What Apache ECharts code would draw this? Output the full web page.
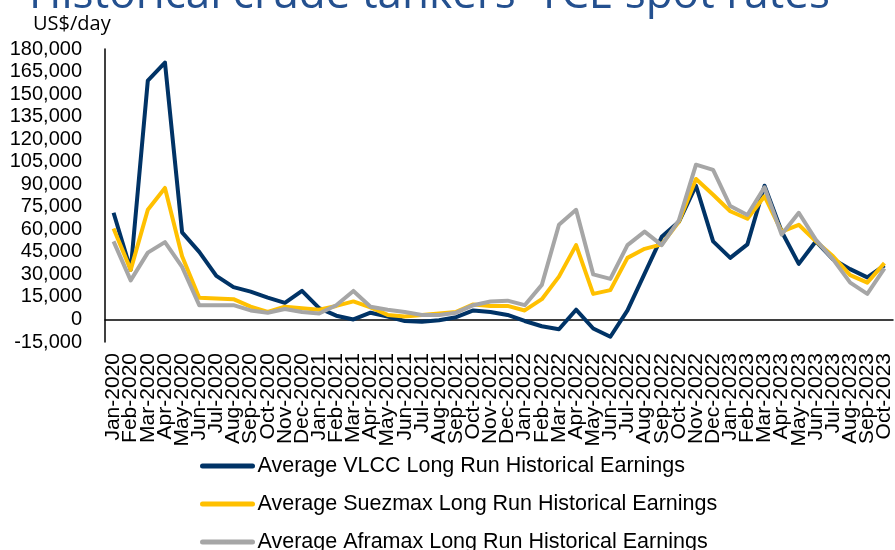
<!DOCTYPE html>
<html>
<head>
    <meta charset="utf-8">
    <title>Crude tankers TCE</title>
    <script src="https://cdn.jsdelivr.net/npm/echarts@6/dist/echarts.min.js"></script>
    <style>
        html, body { margin: 0; padding: 0; background: #fff; }
    </style>
</head>
<body>
<div id="main" style="width: 895px;height:550px;"></div>

<script type="text/javascript">
    // months Jan-2020 .. Oct-2023
    var months = [
        'Jan-2020','Feb-2020','Mar-2020','Apr-2020','May-2020','Jun-2020','Jul-2020','Aug-2020','Sep-2020','Oct-2020','Nov-2020','Dec-2020',
        'Jan-2021','Feb-2021','Mar-2021','Apr-2021','May-2021','Jun-2021','Jul-2021','Aug-2021','Sep-2021','Oct-2021','Nov-2021','Dec-2021',
        'Jan-2022','Feb-2022','Mar-2022','Apr-2022','May-2022','Jun-2022','Jul-2022','Aug-2022','Sep-2022','Oct-2022','Nov-2022','Dec-2022',
        'Jan-2023','Feb-2023','Mar-2023','Apr-2023','May-2023','Jun-2023','Jul-2023','Aug-2023','Sep-2023','Oct-2023'
    ];

    // US$/day
    var vlcc = [
        71000, 33000, 159000, 171000, 58000, 45000, 29000, 21500, 18500, 14500, 11000, 19000,
        7500, 2500, 0, 4500, 2000, -1000, -1500, -500, 1500, 6000, 5000, 3000,
        -1000, -4500, -6500, 6500, -6000, -11500, 6000, 30500, 55000, 65000, 89000, 52000,
        41000, 50000, 89000, 58500, 37000, 52000, 40000, 33500, 28000, 36000
    ];
    var suezmax = [
        60500, 33000, 73000, 87500, 42000, 14500, 14000, 13500, 8500, 5000, 8500, 7500,
        6500, 9000, 12000, 8000, 3000, 2000, 3000, 4000, 5000, 10000, 9000, 9000,
        6000, 13500, 28500, 49500, 17000, 19500, 41000, 47000, 50000, 65000, 93500, 83000,
        72000, 67000, 82000, 58500, 63000, 52000, 42000, 29500, 24500, 37500
    ];
    var aframax = [
        52000, 26000, 44500, 51500, 35000, 9500, 9500, 9500, 6000, 4500, 7000, 5000,
        4000, 9500, 19000, 8500, 6500, 5000, 3000, 3000, 4500, 9500, 12000, 12500,
        9500, 23000, 63000, 73000, 30000, 27000, 49500, 58500, 49500, 66000, 103000, 99500,
        75500, 69500, 88000, 56500, 71000, 53000, 40000, 24500, 17000, 34000
    ];

    var seriesNames = [
        'Average VLCC Long Run Historical Earnings',
        'Average Suezmax Long Run Historical Earnings',
        'Average Aframax Long Run Historical Earnings'
    ];
    var colors = ['#003366', '#FFC000', '#A6A6A6'];

    var myChart = echarts.init(document.getElementById('main'));

    function lineSeries(name, data, color) {
        return {
            name: name,
            type: 'line',
            data: data,
            symbol: 'none',
            color: color,
            lineStyle: { width: 4, color: color, join: 'round' }
        };
    }

    // one legend per entry so the list stays in a single column even when it runs off the bottom
    function legendItem(name, top) {
        return {
            data: [name],
            orient: 'vertical',
            left: 200,
            top: top,
            itemWidth: 50,
            itemHeight: 5,
            itemGap: 0,
            padding: 0,
            lineStyle: { width: 5, cap: 'round' },
            textStyle: { fontFamily: 'Liberation Sans, Arial', fontSize: 21.5, color: '#000' }
        };
    }

    var option = {
        animation: false,
        title: [{
            text: "Historical crude tankers' TCE spot rates",
            left: 24,
            top: -32,
            textStyle: { fontFamily: 'Open Sans', fontSize: 44, fontWeight: 'normal', color: '#24508F' }
        }, {
            text: 'US$/day',
            left: 28,
            top: 9,
            textStyle: { fontFamily: 'Open Sans', fontSize: 20, fontWeight: 'normal', color: '#000' }
        }],
        legend: [
            legendItem(seriesNames[0], 455),
            legendItem(seriesNames[1], 493),
            legendItem(seriesNames[2], 531)
        ],
        grid: {
            left: 105,
            right: 2,
            top: 49,
            bottom: 208,
            containLabel: false
        },
        xAxis: {
            type: 'category',
            data: months,
            boundaryGap: true,
            axisLine: { onZero: true, lineStyle: { color: '#000', width: 1.5 } },
            axisTick: { show: false },
            axisLabel: {
                interval: 0,
                rotate: 90,
                margin: 11,
                fontFamily: 'Liberation Sans, Arial',
                fontSize: 21,
                color: '#000'
            },
            splitLine: { show: false }
        },
        yAxis: {
            type: 'value',
            min: -15000,
            max: 180000,
            interval: 15000,
            axisLine: { show: true, lineStyle: { color: '#000', width: 1.5 } },
            axisTick: { show: false },
            splitLine: { show: false },
            axisLabel: {
                margin: 23,
                fontFamily: 'Liberation Sans, Arial',
                fontSize: 20,
                color: '#000',
                formatter: function (v) { return v.toLocaleString('en-US'); }
            }
        },
        series: [
            lineSeries(seriesNames[0], vlcc, colors[0]),
            lineSeries(seriesNames[1], suezmax, colors[1]),
            lineSeries(seriesNames[2], aframax, colors[2])
        ]
    };

    myChart.setOption(option);
</script>
</body>
</html>
